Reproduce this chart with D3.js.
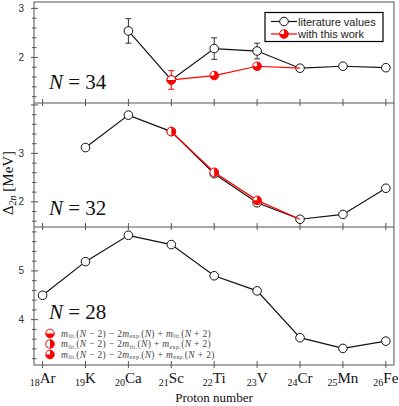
<!DOCTYPE html>
<html>
<head>
<meta charset="utf-8">
<script src="https://cdn.jsdelivr.net/npm/d3@7"></script>
<style>
  body { margin: 0; background: #fff; }
  svg { display: block; }
</style>
</head>
<body>
<svg id="chart" width="399" height="406"></svg>
<script>
// proton numbers and element symbols
const protonNumbers = [18, 19, 20, 21, 22, 23, 24, 25, 26];
const elements = ["Ar", "K", "Ca", "Sc", "Ti", "V", "Cr", "Mn", "Fe"];

// N = 34
const litN34 = [null, null, 2.54, 1.54, 2.18, 2.13, 1.78, 1.82, 1.79];
const litErrN34 = [0, 0, 0.25, 0, 0.22, 0.16, 0, 0, 0];
const workN34 = [null, null, null, 1.54, 1.63, 1.82, 1.78, null, null];
const workErrN34 = [0, 0, 0, 0.19, 0, 0, 0, 0, 0];
const workTypeN34 = [null, null, null, "a", "c", "c", null, null, null];

// N = 32
const litN32 = [null, 3.12, 3.79, 3.45, 2.58, 1.98, 1.64, 1.74, 2.28];
const litErrN32 = [0, 0.05, 0, 0, 0, 0, 0, 0, 0];
const workN32 = [null, null, null, 3.45, 2.61, 2.03, 1.64, null, null];
const workErrN32 = [0, 0, 0, 0, 0, 0, 0, 0, 0];
const workTypeN32 = [null, null, null, "b", "b", "c", null, null, null];

// N = 28
const litN28 = [4.50, 5.19, 5.73, 5.54, 4.90, 4.59, 3.63, 3.41, 3.56];
const litErrN28 = [0, 0, 0, 0, 0, 0, 0, 0, 0];

const svg = d3.select("#chart");
const left = 34, right = 394;
const axisColor = "#555";
const red = "#ff0000";
const serif = "'Liberation Serif', 'DejaVu Serif', serif";
const sans = "'Liberation Sans', Arial, sans-serif";

const x = d3.scaleLinear().domain([17.8, 26.19]).range([left, right]);

const panels = [
    { label: "34", top: 2, bottom: 103, domain: [1.07, 3.13], lit: litN34, litErr: litErrN34,
      work: workN34, workErr: workErrN34, workType: workTypeN34, labelY: 89 },
    { label: "32", top: 103, bottom: 227, domain: [1.48, 4.04], lit: litN32, litErr: litErrN32,
      work: workN32, workErr: workErrN32, workType: workTypeN32, labelY: 215 },
    { label: "28", top: 227, bottom: 365, domain: [3.07, 5.9], lit: litN28, litErr: litErrN28,
      work: null, labelY: 319 }
];

const r = 4.3;
const wedges = {
    a: [Math.PI / 2, Math.PI * 1.5],   // bottom half
    b: [0, Math.PI],                   // right half
    c: [0, Math.PI * 1.5]              // three quarters
};
const arc = d3.arc().innerRadius(0).outerRadius(r);

function drawWorkMarker(g, cx, cy, type) {
    g.append("circle").attr("cx", cx).attr("cy", cy).attr("r", r)
        .attr("fill", "#fff").attr("stroke", red).attr("stroke-width", 1);
    const w = wedges[type];
    g.append("path")
        .attr("transform", `translate(${cx},${cy})`)
        .attr("d", arc({ startAngle: w[0], endAngle: w[1] }))
        .attr("fill", red);
}

function errorBar(g, cx, y, v, e, color) {
    g.append("line").attr("x1", cx).attr("x2", cx)
        .attr("y1", y(v - e)).attr("y2", y(v + e))
        .attr("stroke", color).attr("stroke-width", 1);
    [v - e, v + e].forEach(t => {
        g.append("line").attr("x1", cx - 3).attr("x2", cx + 3)
            .attr("y1", y(t)).attr("y2", y(t))
            .attr("stroke", color).attr("stroke-width", 1);
    });
}

panels.forEach(p => {
    const y = d3.scaleLinear().domain(p.domain).range([p.bottom, p.top]);
    const g = svg.append("g");

    // y ticks, major every 1 and minor every 0.2
    const minor = d3.range(Math.ceil(p.domain[0] * 5), Math.floor(p.domain[1] * 5) + 1).map(v => v / 5);
    minor.forEach(v => {
        const major = Math.abs(v - Math.round(v)) < 1e-6;
        g.append("line")
            .attr("x1", left - (major ? 3 : 2)).attr("x2", left + (major ? 4 : 2.5))
            .attr("y1", y(v)).attr("y2", y(v))
            .attr("stroke", axisColor).attr("stroke-width", 1);
        if (major && y(v) - p.top > 5) {
            g.append("text")
                .attr("x", 24).attr("y", y(v) + 3.5)
                .attr("text-anchor", "end")
                .style("font-family", sans).style("font-size", "10px")
                .style("fill", "#333")
                .text(Math.round(v));
        }
    });

    // x ticks at panel bottom
    protonNumbers.forEach(z => {
        g.append("line").attr("x1", x(z)).attr("x2", x(z))
            .attr("y1", p.bottom - 4).attr("y2", p.bottom + 3)
            .attr("stroke", axisColor).attr("stroke-width", 1);
    });

    // literature line
    const pts = protonNumbers.map((z, i) => ({ z, v: p.lit[i], e: p.litErr[i] })).filter(d => d.v !== null);
    const line = d3.line().x(d => x(d.z)).y(d => y(d.v));
    g.append("path").datum(pts).attr("d", line)
        .attr("fill", "none").attr("stroke", "#111").attr("stroke-width", 1.2);
    pts.filter(d => d.e > 0).forEach(d => errorBar(g, x(d.z), y, d.v, d.e, "#333"));
    g.selectAll("circle.lit").data(pts).enter().append("circle")
        .attr("class", "lit")
        .attr("cx", d => x(d.z)).attr("cy", d => y(d.v)).attr("r", r)
        .attr("fill", "#fff").attr("stroke", "#111").attr("stroke-width", 1);

    // with this work
    if (p.work) {
        const wpts = protonNumbers.map((z, i) => ({ z, v: p.work[i], e: p.workErr[i], t: p.workType[i] }))
            .filter(d => d.v !== null);
        g.append("path").datum(wpts).attr("d", line)
            .attr("fill", "none").attr("stroke", red).attr("stroke-width", 1.2);
        wpts.filter(d => d.e > 0).forEach(d => errorBar(g, x(d.z), y, d.v, d.e, red));
        wpts.filter(d => d.t).forEach(d => drawWorkMarker(g, x(d.z), y(d.v), d.t));
    }

    // N label
    const t = g.append("text").attr("x", 49).attr("y", p.labelY)
        .style("font-family", serif).style("font-size", "21px").style("fill", "#111");
    t.append("tspan").style("font-style", "italic").text("N");
    t.append("tspan").text(" = " + p.label);
});

// frame
svg.append("rect").attr("x", left).attr("y", 2).attr("width", right - left).attr("height", 363)
    .attr("fill", "none").attr("stroke", axisColor).attr("stroke-width", 1);
[103, 227].forEach(yy => {
    svg.append("line").attr("x1", left).attr("x2", right).attr("y1", yy).attr("y2", yy)
        .attr("stroke", axisColor).attr("stroke-width", 1);
});

// x tick labels
protonNumbers.forEach((z, i) => {
    const t = svg.append("text").attr("x", x(z)).attr("y", 383)
        .attr("text-anchor", "middle")
        .style("font-family", serif).style("font-size", "15px").style("fill", "#111");
    t.append("tspan").attr("dy", 3).style("font-size", "10px").text(z);
    t.append("tspan").attr("dy", -3).text(elements[i]);
});

svg.append("text").attr("x", 214).attr("y", 402).attr("text-anchor", "middle")
    .style("font-family", serif).style("font-size", "13px").style("fill", "#111")
    .text("Proton number");

// y label
const yl = svg.append("text")
    .attr("transform", "translate(13,183) rotate(-90)")
    .attr("text-anchor", "middle")
    .style("font-family", serif).style("font-size", "15px").style("fill", "#111");
yl.append("tspan").text("Δ");
yl.append("tspan").attr("dy", 3).style("font-size", "10px").style("font-style", "italic").text("2n");
yl.append("tspan").attr("dy", -3).text(" [MeV]");

// legend box
const lg = svg.append("g");
lg.append("rect").attr("x", 265).attr("y", 12.5).attr("width", 118).attr("height", 29)
    .attr("fill", "#fff").attr("stroke", "#000").attr("stroke-width", 1.2);
lg.append("line").attr("x1", 271).attr("x2", 297).attr("y1", 21.5).attr("y2", 21.5)
    .attr("stroke", "#111").attr("stroke-width", 1.2);
lg.append("circle").attr("cx", 284).attr("cy", 21.5).attr("r", r)
    .attr("fill", "#fff").attr("stroke", "#111");
lg.append("line").attr("x1", 271).attr("x2", 297).attr("y1", 34).attr("y2", 34)
    .attr("stroke", red).attr("stroke-width", 1.2);
drawWorkMarker(lg, 284, 34, "c");
lg.append("text").attr("x", 298).attr("y", 25.5)
    .style("font-family", sans).style("font-size", "11px").style("fill", "#222")
    .text("literature values");
lg.append("text").attr("x", 298).attr("y", 38)
    .style("font-family", sans).style("font-size", "11px").style("fill", "#222")
    .text("with this work");

// formula legend
const formulas = [
    { type: "a", a: "lit.", b: "exp.", c: "lit." },
    { type: "b", a: "lit.", b: "lit.", c: "exp." },
    { type: "c", a: "lit.", b: "exp.", c: "exp." }
];
formulas.forEach((f, i) => {
    const cy = 333.5 + i * 10.5;
    drawWorkMarker(svg, 50, cy, f.type);
    const t = svg.append("text").attr("x", 61).attr("y", cy + 3)
        .style("font-family", serif).style("font-size", "9.5px").style("fill", "#444")
        .style("letter-spacing", "0.35px");
    t.append("tspan").style("font-style", "italic").text("m");
    t.append("tspan").attr("dy", 1.5).style("font-size", "6px").text(f.a);
    t.append("tspan").attr("dy", -1.5).text("(");
    t.append("tspan").style("font-style", "italic").text("N");
    t.append("tspan").text(" − 2) − 2");
    t.append("tspan").style("font-style", "italic").text("m");
    t.append("tspan").attr("dy", 1.5).style("font-size", "6px").text(f.b);
    t.append("tspan").attr("dy", -1.5).text("(");
    t.append("tspan").style("font-style", "italic").text("N");
    t.append("tspan").text(") + ");
    t.append("tspan").style("font-style", "italic").text("m");
    t.append("tspan").attr("dy", 1.5).style("font-size", "6px").text(f.c);
    t.append("tspan").attr("dy", -1.5).text("(");
    t.append("tspan").style("font-style", "italic").text("N");
    t.append("tspan").text(" + 2)");
});
</script>
</body>
</html>
